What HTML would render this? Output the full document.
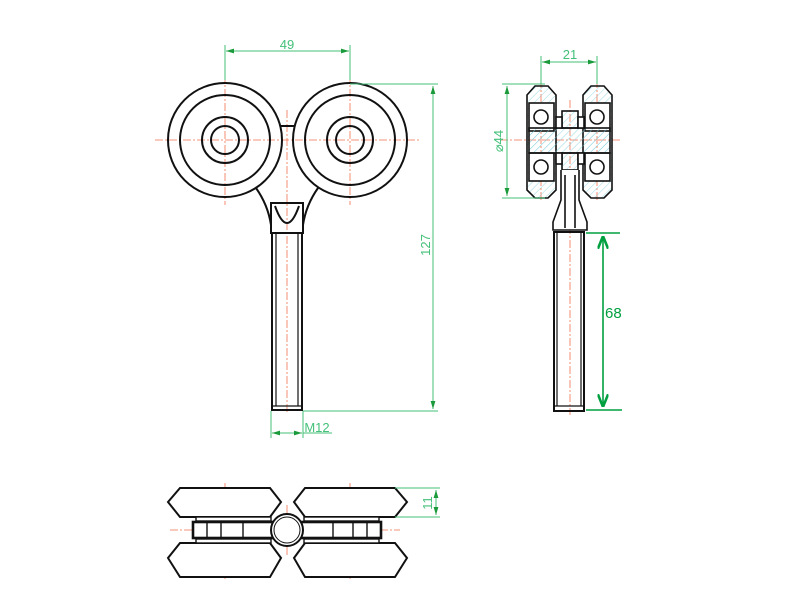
<!DOCTYPE html>
<html><head><meta charset="utf-8"><style>html,body{margin:0;padding:0;background:#fff}svg{display:block}</style></head><body>
<svg width="800" height="600" viewBox="0 0 800 600" xmlns="http://www.w3.org/2000/svg" font-family="Liberation Sans, sans-serif">
<defs>
<pattern id="h" width="5" height="5" patternUnits="userSpaceOnUse" patternTransform="rotate(45)"><line x1="0" y1="0" x2="0" y2="5" stroke="#7fd0dc" stroke-width="0.8"/></pattern>
<marker id="a" viewBox="0 0 10 6" refX="10" refY="3" markerWidth="8" markerHeight="5" orient="auto-start-reverse"><path d="M0,0 L10,3 L0,6 z" fill="#1a9a3a"/></marker>
<marker id="b" viewBox="0 0 10 8" refX="10" refY="4" markerWidth="8" markerHeight="7" orient="auto-start-reverse"><path d="M0,0 L10,4 L0,8" fill="none" stroke="#00a040" stroke-width="2"/></marker>
</defs>
<g stroke="#f07050" stroke-width="0.8" stroke-dasharray="8,2,2,2" fill="none">
<line x1="155" y1="140" x2="420" y2="140"/>
<line x1="225" y1="75" x2="225" y2="205"/>
<line x1="350" y1="75" x2="350" y2="205"/>
<line x1="287" y1="110" x2="287" y2="412"/>
<line x1="500" y1="140" x2="620" y2="140"/>
<line x1="541" y1="80" x2="541" y2="200"/>
<line x1="597" y1="80" x2="597" y2="200"/>
<line x1="570" y1="100" x2="570" y2="415"/>
<line x1="170" y1="530" x2="400" y2="530"/>
<line x1="225" y1="483" x2="225" y2="580"/>
<line x1="350" y1="483" x2="350" y2="580"/>
<line x1="287" y1="505" x2="287" y2="555"/>
</g>
<g stroke="#111" stroke-width="2" fill="none">
<circle cx="225" cy="140" r="57"/><circle cx="225" cy="140" r="45"/><circle cx="225" cy="140" r="23"/><circle cx="225" cy="140" r="14"/>
<circle cx="350" cy="140" r="57"/><circle cx="350" cy="140" r="45"/><circle cx="350" cy="140" r="23"/><circle cx="350" cy="140" r="14"/>
<line x1="280" y1="126" x2="295" y2="126"/>
<path d="M256,188 Q268,205 271,225"/><path d="M318,188 Q306,205 303,225"/>
<rect x="271" y="203" width="32" height="30"/>
<path d="M275,206 Q287,240 299,206"/>
<rect x="272" y="233" width="30" height="177"/>
<line x1="276" y1="233" x2="276" y2="406" stroke-width="1.2"/><line x1="298" y1="233" x2="298" y2="406" stroke-width="1.2"/>
<line x1="272" y1="406" x2="302" y2="406" stroke-width="1.2"/>
</g>
<g stroke="#111" stroke-width="1.6">
<path d="M527,95 L535,86 L548,86 L556,95 L556,190 L548,198 L535,198 L527,190 Z" fill="url(#h)"/>
<path d="M583,95 L591,86 L604,86 L612,95 L612,190 L604,198 L591,198 L583,190 Z" fill="url(#h)"/>
<rect x="529" y="103" width="25" height="28" fill="#fff"/>
<rect x="529" y="153" width="25" height="28" fill="#fff"/>
<rect x="585" y="103" width="25" height="28" fill="#fff"/>
<rect x="585" y="153" width="25" height="28" fill="#fff"/>
<circle cx="541" cy="117" r="7" fill="#fff"/><circle cx="541" cy="167" r="7" fill="#fff"/>
<circle cx="597" cy="117" r="7" fill="#fff"/><circle cx="597" cy="167" r="7" fill="#fff"/>
<rect x="529" y="128" width="81" height="25" fill="url(#h)"/>
<rect x="562" y="111" width="16" height="17" fill="url(#h)"/>
<rect x="562" y="153" width="16" height="17" fill="url(#h)"/>
<rect x="556" y="117" width="6" height="11" fill="#fff"/><rect x="578" y="117" width="6" height="11" fill="#fff"/>
<rect x="556" y="153" width="6" height="11" fill="#fff"/><rect x="578" y="153" width="6" height="11" fill="#fff"/>
<path d="M561,170 L561,200 L553,222 L553,230 L587,230 L587,222 L579,200 L579,170" fill="#fff"/>
<line x1="565" y1="175" x2="565" y2="228"/><line x1="575" y1="175" x2="575" y2="228"/>
<rect x="554" y="232" width="30" height="179" fill="none" stroke-width="2"/>
<line x1="557" y1="233" x2="557" y2="406" stroke-width="1.2"/><line x1="581" y1="233" x2="581" y2="406" stroke-width="1.2"/>
<line x1="554" y1="406" x2="584" y2="406" stroke-width="1.2"/>
</g>
<g stroke="#111" stroke-width="2" fill="#fff">
<path d="M180,488 L270,488 L281,502 L270,517 L180,517 L168,502 Z"/>
<path d="M305,488 L395,488 L407,502 L395,517 L305,517 L294,502 Z"/>
<path d="M180,543 L270,543 L281,558 L270,577 L180,577 L168,558 Z"/>
<path d="M305,543 L395,543 L407,558 L395,577 L305,577 L294,558 Z"/>
<rect x="196" y="517" width="75" height="4" stroke-width="1.4"/><rect x="304" y="517" width="75" height="4" stroke-width="1.4"/>
<rect x="196" y="539" width="75" height="4" stroke-width="1.4"/><rect x="304" y="539" width="75" height="4" stroke-width="1.4"/>
<rect x="193" y="522" width="80" height="16" stroke-width="2.6"/>
<rect x="301" y="522" width="80" height="16" stroke-width="2.6"/>
<line x1="272" y1="530" x2="302" y2="530" stroke-width="8" stroke="#111"/>
<circle cx="287" cy="530" r="16" stroke-width="2"/><circle cx="287" cy="530" r="13" stroke-width="1"/>
<line x1="207" y1="522" x2="207" y2="538" stroke-width="1.4"/><line x1="221" y1="522" x2="221" y2="538" stroke-width="1.4"/><line x1="243" y1="522" x2="243" y2="538" stroke-width="1.4"/>
<line x1="367" y1="522" x2="367" y2="538" stroke-width="1.4"/><line x1="353" y1="522" x2="353" y2="538" stroke-width="1.4"/><line x1="333" y1="522" x2="333" y2="538" stroke-width="1.4"/>
</g>
<g stroke="#45c07a" stroke-width="1" fill="none">
<line x1="225" y1="45" x2="225" y2="80"/><line x1="350" y1="45" x2="350" y2="80"/>
<line x1="226" y1="51" x2="349" y2="51" marker-start="url(#a)" marker-end="url(#a)"/>
<line x1="350" y1="84" x2="438" y2="84"/><line x1="303" y1="411" x2="438" y2="411"/>
<line x1="433" y1="86" x2="433" y2="409" marker-start="url(#a)" marker-end="url(#a)"/>
<line x1="271" y1="411" x2="271" y2="438"/><line x1="303" y1="411" x2="303" y2="438"/>
<line x1="272" y1="433" x2="302" y2="433" marker-start="url(#a)" marker-end="url(#a)"/>
<line x1="303" y1="433" x2="332" y2="433"/>
<line x1="541" y1="56" x2="541" y2="84"/><line x1="597" y1="56" x2="597" y2="84"/>
<line x1="542" y1="62" x2="596" y2="62" marker-start="url(#a)" marker-end="url(#a)"/>
<line x1="502" y1="84" x2="545" y2="84"/><line x1="502" y1="198" x2="545" y2="198"/>
<line x1="507" y1="86" x2="507" y2="196" marker-start="url(#a)" marker-end="url(#a)"/>
<line x1="395" y1="488" x2="440" y2="488"/><line x1="395" y1="517" x2="440" y2="517"/>
<line x1="436" y1="490" x2="436" y2="515" marker-start="url(#a)" marker-end="url(#a)"/>
</g>
<g fill="#45c07a" font-size="13">
<text x="287" y="49" text-anchor="middle">49</text>
<text x="570" y="59" text-anchor="middle">21</text>
<text x="317" y="432" text-anchor="middle">M12</text>
<text transform="translate(430,245) rotate(-90)" text-anchor="middle">127</text>
<text transform="translate(503,141) rotate(-90)" text-anchor="middle">⌀44</text>
<text transform="translate(432,503) rotate(-90)" text-anchor="middle">11</text>
</g>
<g stroke="#00a040" stroke-width="1.6" fill="none">
<line x1="586" y1="233" x2="620" y2="233"/><line x1="586" y1="410" x2="622" y2="410"/>
<line x1="603" y1="236" x2="603" y2="407" marker-start="url(#b)" marker-end="url(#b)"/>
</g>
<text x="605" y="318" fill="#00a040" font-size="15">68</text>
</svg>
</body></html>
